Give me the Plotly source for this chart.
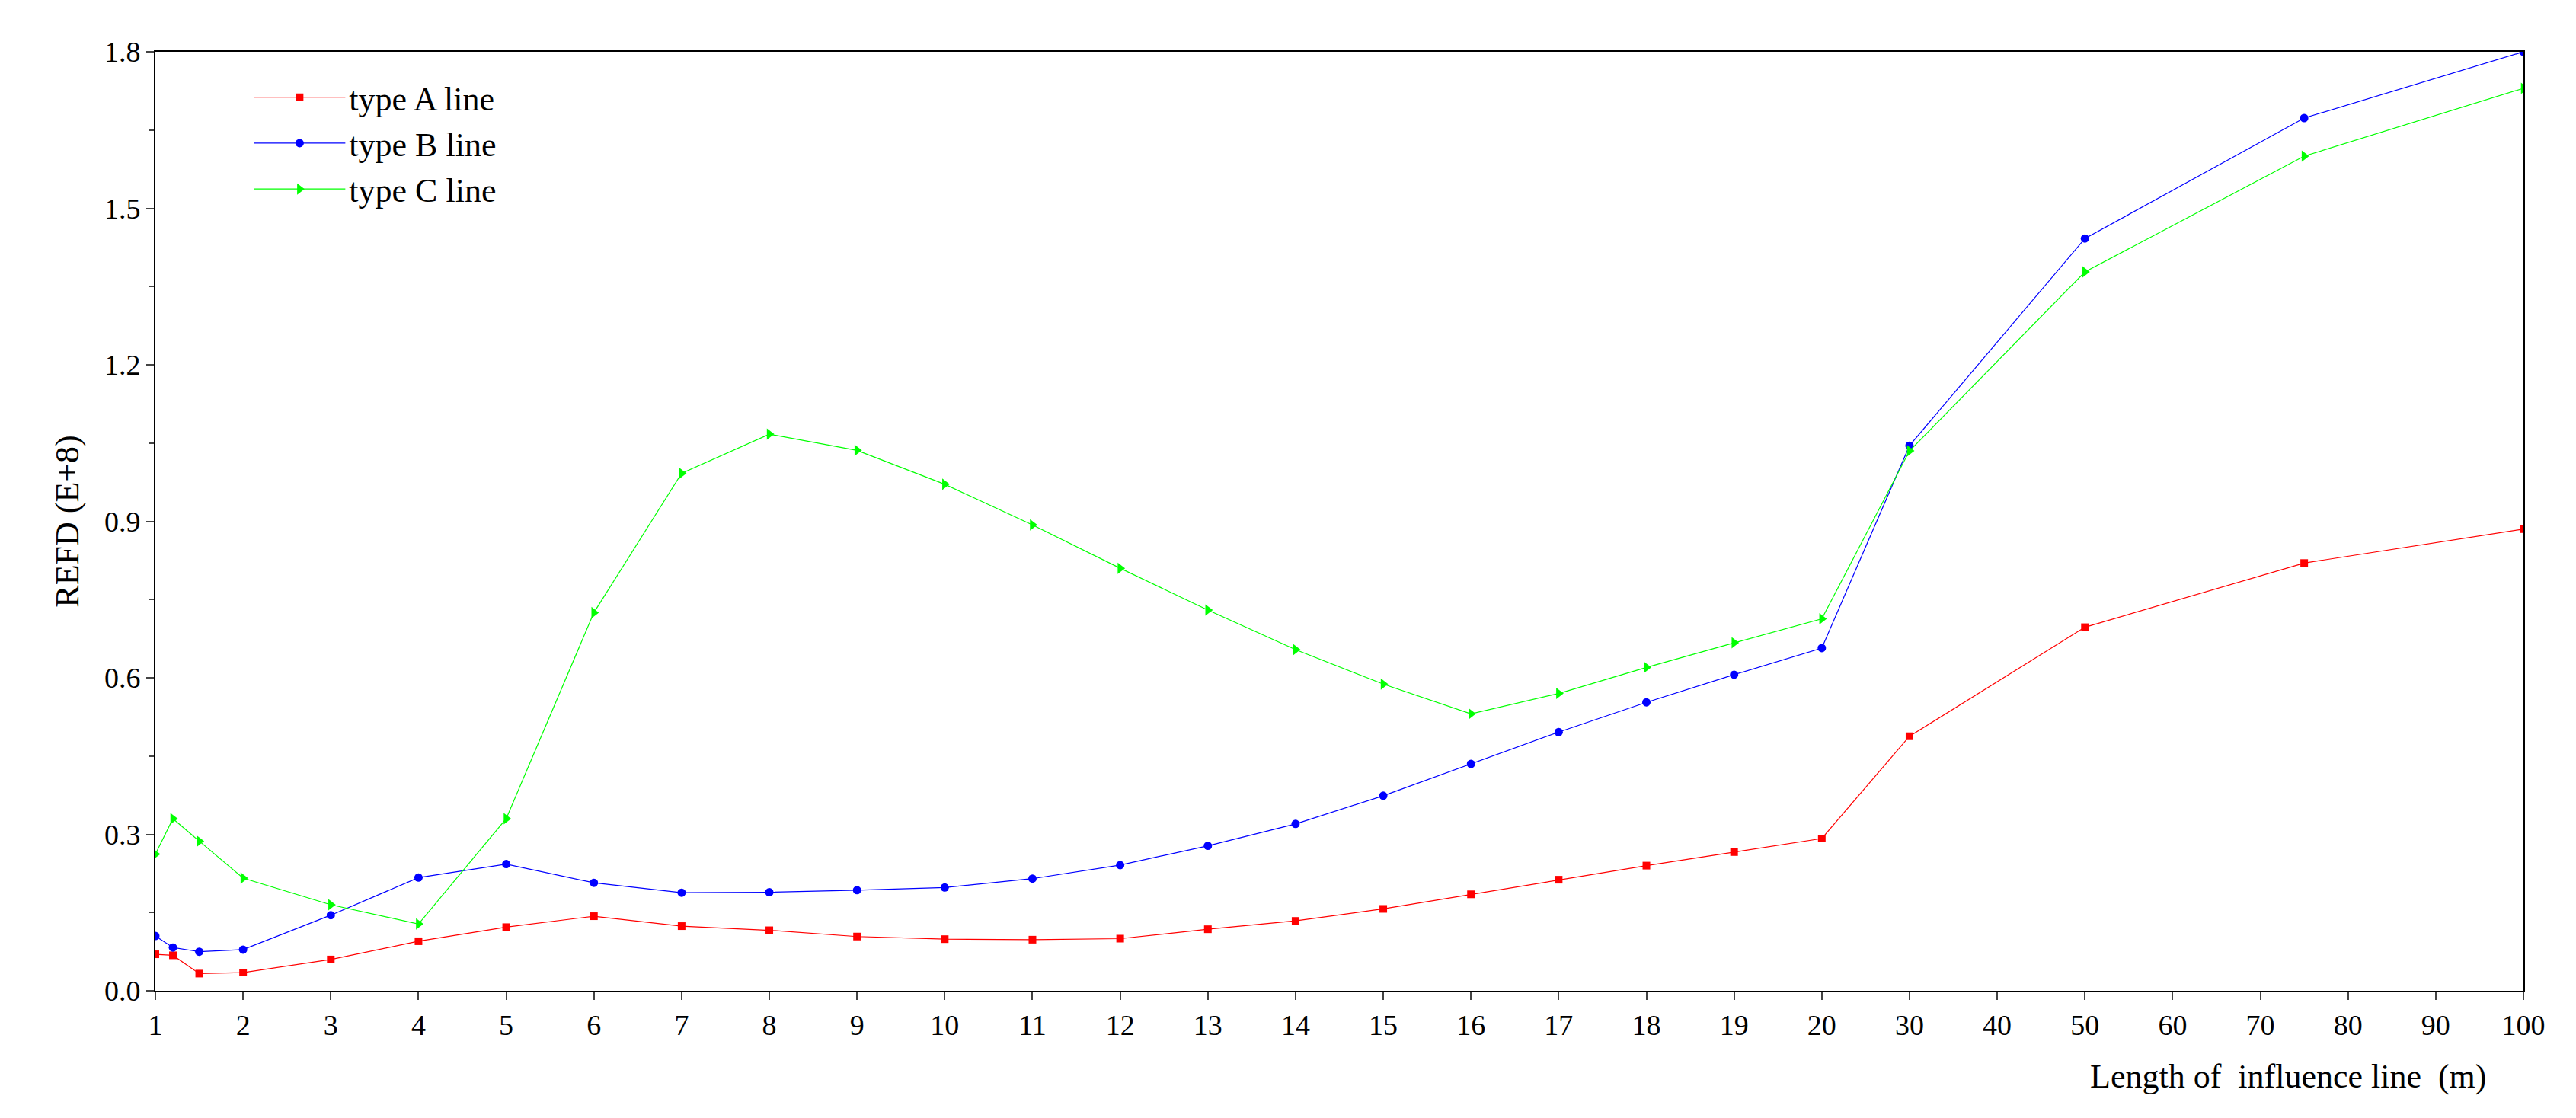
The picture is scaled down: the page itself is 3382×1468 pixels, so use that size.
import plotly.graph_objects as go

x_vals = [1, 1.2, 1.5, 2, 3, 4, 5, 6, 7, 8, 9, 10, 11, 12, 13, 14, 15, 16, 17, 18, 19, 20, 30, 50, 75, 100]
type_a = [0.07, 0.068, 0.033, 0.035, 0.06, 0.095, 0.122, 0.143, 0.124, 0.116, 0.104, 0.099, 0.098, 0.1, 0.118, 0.134, 0.157, 0.185, 0.213, 0.24, 0.266, 0.292, 0.488, 0.697, 0.82, 0.885]
type_b = [0.105, 0.083, 0.075, 0.079, 0.145, 0.217, 0.243, 0.207, 0.188, 0.189, 0.193, 0.198, 0.215, 0.241, 0.278, 0.32, 0.374, 0.435, 0.496, 0.553, 0.606, 0.657, 1.045, 1.442, 1.673, 1.8]
type_c = [0.262, 0.33, 0.287, 0.216, 0.165, 0.128, 0.33, 0.725, 0.992, 1.067, 1.036, 0.971, 0.893, 0.81, 0.73, 0.654, 0.588, 0.531, 0.57, 0.62, 0.667, 0.713, 1.035, 1.378, 1.6, 1.73]
tick_labels = [str(i) for i in range(1, 21)] + [str(i) for i in range(30, 101, 10)]


def pos(v):
    return v if v <= 20 else 20 + (v - 20) / 10


xp = [pos(v) for v in x_vals]
tickpos = [pos(float(t)) for t in tick_labels]

fig = go.Figure()
fig.add_trace(go.Scatter(x=xp, y=type_a, name="type A line", mode="lines+markers",
                         line=dict(color="#ff0000", width=1.2), marker=dict(symbol="square", size=10, color="#ff0000")))
fig.add_trace(go.Scatter(x=xp, y=type_b, name="type B line", mode="lines+markers",
                         line=dict(color="#0000ff", width=1.2), marker=dict(symbol="circle", size=11, color="#0000ff")))
fig.add_trace(go.Scatter(x=xp, y=type_c, name="type C line", mode="lines+markers",
                         line=dict(color="#00ff00", width=1.2), marker=dict(symbol="triangle-right", size=13, color="#00ff00")))

fam = "Liberation Serif, Times New Roman, serif"
fnt = dict(family=fam, size=38, color="black")
fig.update_layout(
    width=3382, height=1468, paper_bgcolor="white", plot_bgcolor="white",
    margin=dict(l=196, r=77, t=60, b=175),
    font=fnt,
    legend=dict(x=0.04, y=0.98, xanchor="left", yanchor="top", font=dict(size=44, family=fam),
                bgcolor="rgba(0,0,0,0)", itemwidth=120, tracegroupgap=20),
    xaxis=dict(range=[1, 28], tickvals=tickpos, ticktext=tick_labels, showgrid=False, zeroline=False,
               showline=True, linecolor="black", linewidth=2, mirror=True, ticks="outside", ticklen=10,
               tickwidth=2, tickfont=fnt),
    yaxis=dict(range=[0, 1.8], tickvals=[0, 0.3, 0.6, 0.9, 1.2, 1.5, 1.8],
               ticktext=["0.0", "0.3", "0.6", "0.9", "1.2", "1.5", "1.8"], showgrid=False, zeroline=False,
               showline=True, linecolor="black", linewidth=2, mirror=True, ticks="outside", ticklen=10,
               tickwidth=2, tickfont=fnt, minor=dict(dtick=0.15, ticks="outside", ticklen=6, tickwidth=2),
               title=dict(text="REFD (E+8)", font=dict(size=44, family=fam), standoff=20)),
)
fig.add_annotation(text="Length of  influence line  (m)", xref="paper", yref="paper", x=0.985, y=-0.07,
                   xanchor="right", yanchor="top", showarrow=False, font=dict(size=44, family=fam))
fig.write_html("out.html")
